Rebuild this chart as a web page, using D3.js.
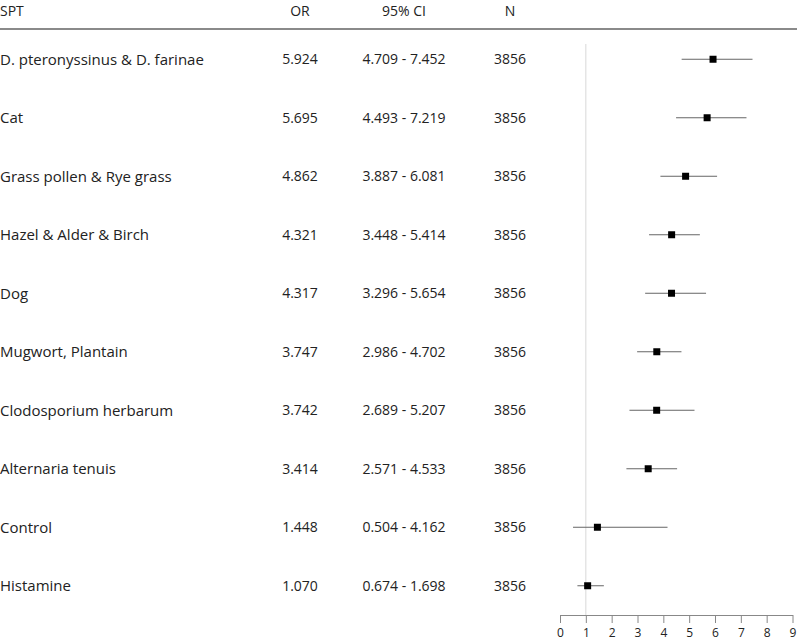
<!DOCTYPE html>
<html>
<head>
<meta charset="utf-8">
<script src="https://cdn.jsdelivr.net/npm/d3@7"></script>
<style>
  body { margin: 0; background: #fff; }
  text { font-family: "Open Sans", "Liberation Sans", Arial, sans-serif; fill: #222; }
</style>
</head>
<body>
<div id="chart"></div>
<script>
// forest plot of skin prick test odds ratios
var labels = ["D. pteronyssinus & D. farinae", "Cat", "Grass pollen & Rye grass",
  "Hazel & Alder & Birch", "Dog", "Mugwort, Plantain", "Clodosporium herbarum",
  "Alternaria tenuis", "Control", "Histamine"];
var or = [5.924, 5.695, 4.862, 4.321, 4.317, 3.747, 3.742, 3.414, 1.448, 1.070];
var lower = [4.709, 4.493, 3.887, 3.448, 3.296, 2.986, 2.689, 2.571, 0.504, 0.674];
var upper = [7.452, 7.219, 6.081, 5.414, 5.654, 4.702, 5.207, 4.533, 4.162, 1.698];
var n = [3856, 3856, 3856, 3856, 3856, 3856, 3856, 3856, 3856, 3856];
var headers = ["SPT", "OR", "95% CI", "N"];
var xTicks = [0, 1, 2, 3, 4, 5, 6, 7, 8, 9];

var width = 797, height = 644;

var rows = labels.map(function(d, i) {
  return { label: d, or: or[i], lo: lower[i], hi: upper[i], n: n[i] };
});

var svg = d3.select("#chart").append("svg")
  .attr("width", width)
  .attr("height", height);

var x = d3.scaleLinear().domain([0, 9]).range([560, 792.5]);
var y = d3.scaleBand().domain(labels).range([30, 615]);

// header
var colX = [0, 300, 404, 510];
svg.selectAll(".hdr").data(headers).enter().append("text")
  .attr("class", "hdr")
  .attr("x", function(d, i) { return colX[i]; })
  .attr("y", 16)
  .attr("text-anchor", function(d, i) { return i == 0 ? "start" : "middle"; })
  .style("font-size", "14px")
  .text(function(d) { return d; });

svg.append("line")
  .attr("x1", 0).attr("x2", width)
  .attr("y1", 29).attr("y2", 29)
  .attr("stroke", "#8a8a8a")
  .attr("stroke-width", 2);

// reference line at OR = 1
svg.append("line")
  .attr("x1", x(1)).attr("x2", x(1))
  .attr("y1", 44).attr("y2", 615)
  .attr("stroke", "#d8d8d8");

var row = svg.selectAll(".row").data(rows).enter().append("g")
  .attr("class", "row")
  .attr("transform", function(d) {
    return "translate(0," + (y(d.label) + y.bandwidth() / 2) + ")";
  });

row.append("text").attr("x", colX[0]).attr("dy", "0.35em")
  .style("font-size", "15px")
  .text(function(d) { return d.label; });
row.append("text").attr("x", colX[1]).attr("dy", "0.35em")
  .attr("text-anchor", "middle").style("font-size", "14px")
  .text(function(d) { return d3.format(".3f")(d.or); });
row.append("text").attr("x", colX[2]).attr("dy", "0.35em")
  .attr("text-anchor", "middle").style("font-size", "14px")
  .text(function(d) { return d3.format(".3f")(d.lo) + " - " + d3.format(".3f")(d.hi); });
row.append("text").attr("x", colX[3]).attr("dy", "0.35em")
  .attr("text-anchor", "middle").style("font-size", "14px")
  .text(function(d) { return d.n; });

row.append("line")
  .attr("x1", function(d) { return x(d.lo); })
  .attr("x2", function(d) { return x(d.hi); })
  .attr("stroke", "#666")
  .attr("stroke-width", 1);
row.append("rect")
  .attr("x", function(d) { return x(d.or) - 3.5; })
  .attr("y", -3.5)
  .attr("width", 7).attr("height", 7)
  .attr("fill", "#000");

// bottom axis
var axis = svg.append("g")
  .attr("transform", "translate(0,615)")
  .call(d3.axisBottom(x).tickValues(xTicks).tickSize(8).tickSizeOuter(0).tickPadding(5));
axis.selectAll("path, line").attr("stroke", "#888");
axis.selectAll("text")
  .style("font-size", "12px")
  .style("font-family", "Open Sans, Liberation Sans, Arial, sans-serif")
  .attr("fill", "#222");
</script>
</body>
</html>
